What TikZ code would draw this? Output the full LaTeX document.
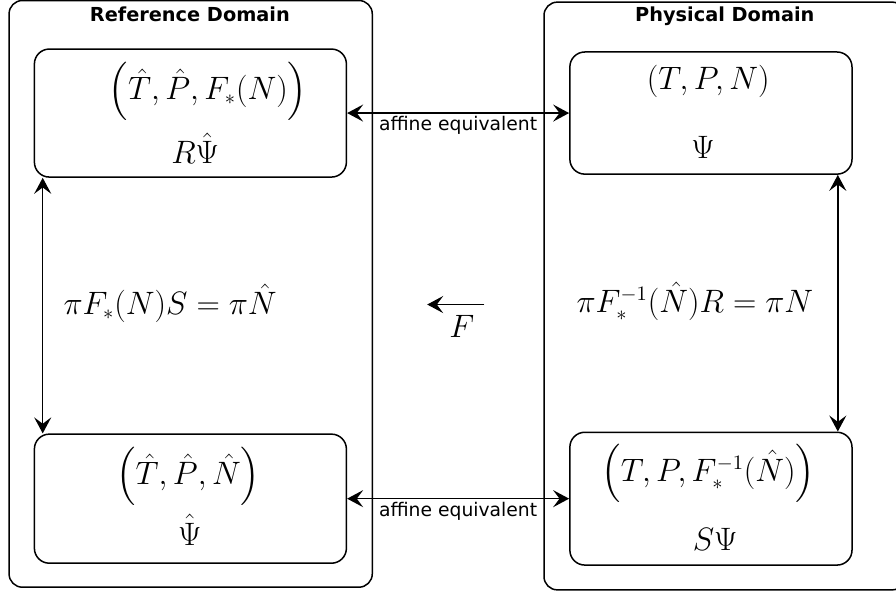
\documentclass[tikz,border=0pt]{standalone}
\usepackage{amsmath}
\usepackage{exscale}
\usepackage{fontspec}
\setsansfont{DejaVu Sans}
\usepackage{tikz}
\usetikzlibrary{arrows.meta}

\tikzset{
  domainbox/.style={draw,line width=0.8pt,rounded corners=0.25cm},
  statebox/.style={draw,line width=0.8pt,rounded corners=0.28cm,minimum width=5.85cm,minimum height=2.4cm},
  domaintitle/.style={font=\sffamily\bfseries\fontsize{10.3}{12}\selectfont},
  eqlabel/.style={font=\sffamily\fontsize{10}{12}\selectfont,inner sep=1.5pt},
  mathtxt/.style={font=\fontsize{16}{19}\selectfont},
  link/.style={line width=0.8pt,{Stealth[length=3mm,width=3.2mm,inset=1.2mm]}-{Stealth[length=3mm,width=3.2mm,inset=1.2mm]}},
  maparrow/.style={line width=0.8pt,-{Stealth[length=3mm,width=3.2mm,inset=1.2mm]}}
}

\begin{document}
\begin{tikzpicture}[x=1cm,y=1cm]
\path[use as bounding box] (0,0) rectangle (16.80,11.14);
% outer domains
\draw[domainbox] (0.17,0.13) rectangle (6.98,11.13);
\draw[domainbox] (10.20,0.08) rectangle (16.98,11.10);
\node[domaintitle] (reftitle) at (3.56,10.88) {Reference Domain};
\node[domaintitle] (phystitle) at (13.59,10.84) {Physical Domain};
% state boxes
\node[statebox] (refTop) at (3.57,9.02) {};
\node[statebox,minimum width=5.29cm,minimum height=2.29cm] (physTop) at (13.33,9.02) {};
\node[statebox,minimum height=2.42cm] (refBot) at (3.57,1.79) {};
\node[statebox,minimum width=5.29cm,minimum height=2.49cm] (physBot) at (13.33,1.79) {};
% box contents
\node[mathtxt] (refTopTuple) at (3.90,9.43) {$\Bigl(\hat{T},\hat{P},F_*(N)\Bigr)$};
\node[mathtxt,anchor=base] (refTopState) at (3.66,8.08) {$R\hat{\Psi}$};
\node[mathtxt] (physTopTuple) at (13.28,9.62) {$(T,P,N)$};
\node[mathtxt,anchor=base] (physTopState) at (13.18,8.16) {$\Psi$};
\node[mathtxt] (refBotTuple) at (3.53,2.21) {$\Bigl(\hat{T},\hat{P},\hat{N}\Bigr)$};
\node[mathtxt,anchor=base] (refBotState) at (3.56,0.92) {$\hat{\Psi}$};
\node[mathtxt] (physBotTuple) at (13.28,2.27) {$\Bigl(T,P,F_*^{-1}(\hat{N})\Bigr)$};
\node[mathtxt,anchor=base] (physBotState) at (13.41,0.81) {$S\Psi$};
% relations
\node[mathtxt] (refRel) at (3.19,5.46) {$\pi F_*(N)S = \pi\hat{N}$};
\node[mathtxt] (physRel) at (13.03,5.49) {$\pi F_*^{-1}(\hat{N})R = \pi N$};
% connectors
\draw[link] (refTop.east) -- (physTop.west) node[eqlabel,midway,below] {affine equivalent};
\draw[link] (refBot.east) -- (physBot.west) node[eqlabel,midway,below] {affine equivalent};
\draw[link] ([xshift=0.17cm]refTop.south west) -- ([xshift=0.17cm]refBot.north west);
\draw[link] ([xshift=-0.28cm]physTop.south east) -- ([xshift=-0.28cm]physBot.north east);
% map F
\coordinate (mapStart) at (9.08,5.43);
\coordinate (mapEnd) at (8.01,5.43);
\draw[maparrow] (mapStart) -- (mapEnd);
\node[mathtxt] (mapName) at (8.66,5.02) {$F$};
\end{tikzpicture}
\end{document}
